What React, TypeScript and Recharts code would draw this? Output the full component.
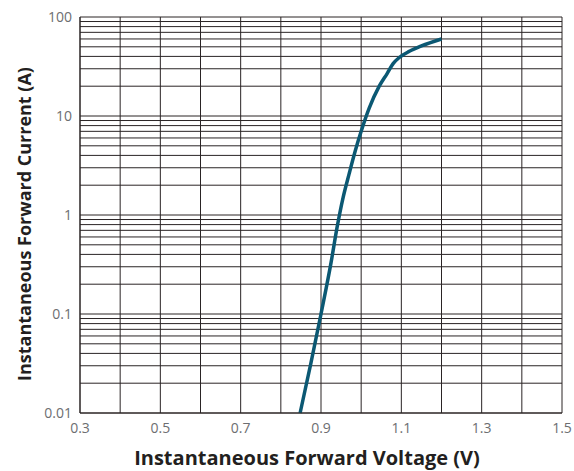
import React from 'react';
import { LineChart, Line, XAxis, YAxis, ReferenceLine, Label } from 'recharts';

// forward voltage (V) vs instantaneous forward current (A)
const voltage = [0.848, 0.875, 0.9, 0.925, 0.94, 0.955, 0.97, 0.985, 1.0, 1.02, 1.045, 1.065, 1.08, 1.095, 1.12, 1.15, 1.2];
const current = [0.01, 0.032, 0.1, 0.33, 0.75, 1.5, 2.6, 4.4, 7.0, 12, 20, 27, 34, 39, 45, 51, 60];

const xTicks = [0.3, 0.5, 0.7, 0.9, 1.1, 1.3, 1.5];
const yTicks = [0.01, 0.1, 1, 10, 100];
const xGrid = [0.3, 0.4, 0.5, 0.6, 0.7, 0.8, 0.9, 1.0, 1.1, 1.2, 1.3, 1.4, 1.5];
const yGrid = [
  0.01, 0.02, 0.03, 0.04, 0.05, 0.06, 0.07, 0.08, 0.09,
  0.1, 0.2, 0.3, 0.4, 0.5, 0.6, 0.7, 0.8, 0.9,
  1, 2, 3, 4, 5, 6, 7, 8, 9,
  10, 20, 30, 40, 50, 60, 70, 80, 90,
  100,
];

const data = voltage.map((v, i) => ({ v, i: current[i] }));

const gridColor = '#2a2425';
const tickStyle = { fontFamily: 'Open Sans', fontSize: 14, fill: '#6d6e71' };
const titleFont = { fontFamily: 'Open Sans', fontWeight: 700, fill: '#231f20' };

export default function App() {
  return (
    <div style={{ position: 'absolute', left: 0, top: 0 }}>
      <LineChart width={574} height={471} data={data} margin={{ top: 17, right: 12, bottom: 28, left: 10 }}>
        <XAxis
          dataKey="v"
          type="number"
          domain={[0.3, 1.5]}
          ticks={xTicks}
          tickFormatter={(t: number) => t.toFixed(1)}
          tick={tickStyle}
          tickLine={false}
          tickSize={8}
          tickMargin={2}
          axisLine={{ stroke: gridColor }}
          height={30}
        >
          <Label
            content={() => (
              <text x={307} y={465} textAnchor="middle" style={{ ...titleFont, fontSize: 20 }}>
                Instantaneous Forward Voltage (V)
              </text>
            )}
          />
        </XAxis>
        <YAxis
          dataKey="i"
          type="number"
          scale="log"
          domain={[0.01, 100]}
          ticks={yTicks}
          tickFormatter={(t: number) => String(t)}
          tick={tickStyle}
          tickLine={false}
          axisLine={{ stroke: gridColor }}
          width={70}
        >
          <Label
            content={() => (
              <text
                x={24}
                y={224}
                transform="rotate(-90 24 224)"
                textAnchor="middle"
                dominantBaseline="central"
                style={{ ...titleFont, fontSize: 18 }}
              >
                Instantaneous Forward Current (A)
              </text>
            )}
          />
        </YAxis>
        {yGrid.map((g) => (
          <ReferenceLine key={'y' + g} y={g} stroke={gridColor} strokeWidth={1} />
        ))}
        {xGrid.map((g) => (
          <ReferenceLine key={'x' + g} x={g} stroke={gridColor} strokeWidth={1} />
        ))}
        <Line
          dataKey="i"
          type="monotone"
          stroke="#0b5873"
          strokeWidth={3.5}
          dot={false}
          isAnimationActive={false}
        />
      </LineChart>
    </div>
  );
}
